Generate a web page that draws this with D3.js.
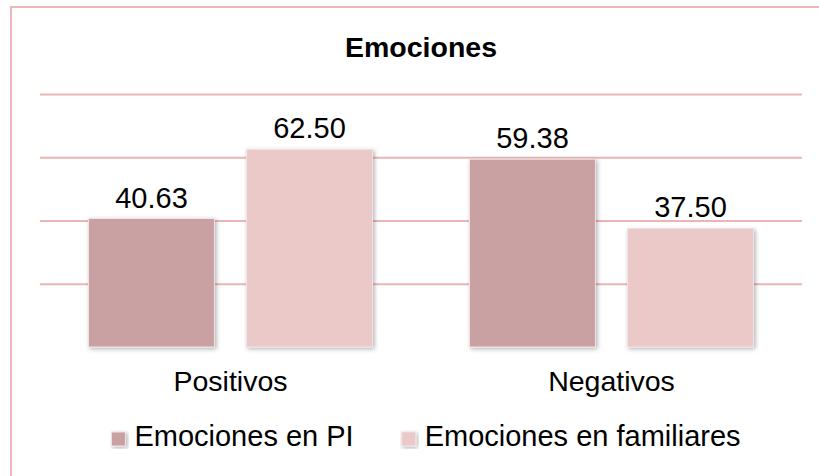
<!DOCTYPE html>
<html>
<head>
<meta charset="utf-8">
<script src="https://cdn.jsdelivr.net/npm/d3@7"></script>
<style>
  body { margin:0; background:#fff; overflow:hidden; }
  svg { display:block; }
  text { font-family: "Liberation Sans", Arial, sans-serif; }
</style>
</head>
<body>
<div id="chart"></div>
<script>
/////////////////////////// data ///////////////////////////
var categories = ["Positivos", "Negativos"];
var seriesNames = ["Emociones en PI", "Emociones en familiares"];
var piValues = [40.63, 59.38];
var famValues = [62.50, 37.50];
var gridTicks = [20, 40, 60, 80];

/////////////////////////// layout ///////////////////////////
var wdim = 819, hdim = 476;
var plot = {left:40, right:802, top:94, bottom:347};
var colors = ["#CAA1A2", "#ECC9C9"];

var svg = d3.select("#chart").append("svg")
  .attr("width", wdim).attr("height", hdim);

var defs = svg.append("defs");
var f = defs.append("filter").attr("id", "shadow")
  .attr("x", "-10%").attr("y", "-10%").attr("width", "130%").attr("height", "130%");
f.append("feDropShadow").attr("dx", 1.5).attr("dy", 1.5)
  .attr("stdDeviation", 2).attr("flood-color", "#000").attr("flood-opacity", 0.3);

// outer frame (only left/top edges fall inside the picture)
svg.append("path")
  .attr("d", "M11," + hdim + "V7H" + wdim)
  .attr("fill", "none").attr("stroke", "#EBB9B9").attr("stroke-width", 2);

// title
svg.append("text")
  .attr("x", 421).attr("y", 57)
  .attr("text-anchor", "middle")
  .style("font-size", "28.5px").style("font-weight", "bold")
  .text("Emociones");

var y = d3.scaleLinear().domain([0, 80]).range([plot.bottom, plot.top]);
var x0 = d3.scaleBand().domain(categories).range([plot.left, plot.right]);
var x1 = d3.scaleBand().domain(seriesNames)
  .range([48.5, x0.bandwidth() - 48.5]).paddingInner(0.203);

// gridlines
var grid = svg.append("g")
  .attr("transform", "translate(" + plot.left + ",0)")
  .call(d3.axisLeft(y).tickValues(gridTicks)
    .tickSize(-(plot.right - plot.left)).tickFormat(""));
grid.select(".domain").remove();
grid.selectAll("line").attr("stroke", "#EBB5B5").attr("stroke-width", 2);

// bars
var rows = categories.map(function(c, i){
  return {cat:c, vals:[piValues[i], famValues[i]]};
});

var groups = svg.selectAll("g.grp").data(rows).enter().append("g")
  .attr("class", "grp")
  .attr("transform", function(d){ return "translate(" + x0(d.cat) + ",0)"; });

groups.selectAll("rect").data(function(d){
    return d.vals.map(function(v, j){ return {s:seriesNames[j], v:v, j:j}; });
  }).enter().append("rect")
  .attr("x", function(d){ return x1(d.s); })
  .attr("y", function(d){ return y(d.v); })
  .attr("width", x1.bandwidth())
  .attr("height", function(d){ return y(0) - y(d.v); })
  .attr("fill", function(d){ return colors[d.j]; })
  .attr("stroke", "#EFE3E3").attr("stroke-width", 1)
  .attr("filter", "url(#shadow)");

groups.selectAll("text.val").data(function(d){
    return d.vals.map(function(v, j){ return {s:seriesNames[j], v:v}; });
  }).enter().append("text")
  .attr("class", "val")
  .attr("x", function(d){ return x1(d.s) + x1.bandwidth()/2; })
  .attr("y", function(d){ return y(d.v) - 11; })
  .attr("text-anchor", "middle")
  .style("font-size", "29px")
  .text(function(d){ return d.v.toFixed(2); });

// baseline
svg.append("line")
  .attr("x1", plot.left).attr("x2", plot.right)
  .attr("y1", y(0)).attr("y2", y(0))
  .attr("stroke", "#868686").attr("stroke-width", 2)
  .attr("filter", "url(#shadow)");

// category axis labels
var xAxis = svg.append("g")
  .attr("transform", "translate(0," + y(0) + ")")
  .call(d3.axisBottom(x0).tickSize(0).tickPadding(0));
xAxis.select(".domain").remove();
xAxis.selectAll("text")
  .attr("dy", null).attr("y", 44)
  .style("font-size", "28.5px").attr("fill", "#000")
  .style("font-family", "'Liberation Sans', Arial, sans-serif");

// legend
var legend = svg.append("g");
var xpos = 0;
seriesNames.forEach(function(name, j){
  var item = legend.append("g").attr("transform", "translate(" + xpos + ",0)");
  item.append("rect")
    .attr("x", 0).attr("y", 432).attr("width", 14).attr("height", 14)
    .attr("fill", colors[j]).attr("stroke", "#EFE3E3").attr("stroke-width", 1)
    .attr("filter", "url(#shadow)");
  var t = item.append("text")
    .attr("x", 23).attr("y", 446)
    .style("font-size", "29px")
    .text(name);
  xpos += 23 + t.node().getComputedTextLength() + 48;
});
var legW = xpos - 48;
legend.attr("transform", "translate(" + (426 - legW/2) + ",0)");
</script>
</body>
</html>
